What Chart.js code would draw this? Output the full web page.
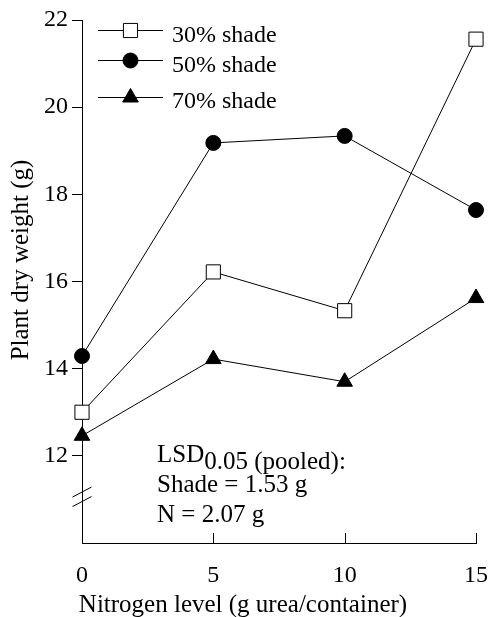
<!DOCTYPE html>
<html>
<head>
<meta charset="utf-8">
<script src="https://cdn.jsdelivr.net/npm/chart.js@4.4.0/dist/chart.umd.min.js"></script>
<style>
  html, body { margin: 0; padding: 0; background: #fff; }
  #wrap { width: 488px; height: 617px; position: relative; }
</style>
</head>
<body>
<div id="wrap"><canvas id="chart"></canvas></div>
<script>
// nitrogen levels (g urea/container)
const nitrogen = [0, 5, 10, 15];
// plant dry weight (g) per shade level
const shade30 = [13.0, 16.22, 15.33, 21.56];
const shade50 = [14.29, 19.18, 19.34, 17.64];
const shade70 = [12.46, 14.22, 13.70, 15.62];
const seriesNames = ['30% shade', '50% shade', '70% shade'];
const lsdLines = ['Shade = 1.53 g', 'N = 2.07 g'];
const xTitle = 'Nitrogen level (g urea/container)';
const yTitle = 'Plant dry weight (g)';

const FONT = '"Liberation Serif", "Times New Roman", serif';

function pts(vals) {
  return nitrogen.map((x, i) => ({ x: x, y: vals[i] }));
}

// legend, inward x ticks, axis break, titles, LSD note
const extras = {
  id: 'extras',
  afterDraw(chart) {
    const ctx = chart.ctx;
    const xs = chart.scales.x, ys = chart.scales.y;
    ctx.save();
    ctx.strokeStyle = '#000';
    ctx.fillStyle = '#000';
    ctx.lineWidth = 1;

    // x ticks pointing up into the plot
    const base = ys.getPixelForValue(10);
    nitrogen.forEach(v => {
      if (v === 0) return;
      const px = Math.round(xs.getPixelForValue(v)) + 0.5;
      ctx.beginPath();
      ctx.moveTo(px, base);
      ctx.lineTo(px, base - 10);
      ctx.stroke();
    });

    // axis break: two slashes
    const ax = xs.getPixelForValue(0);
    const by = ys.getPixelForValue(11.06);
    [-4.75, 4.75].forEach(d => {
      ctx.beginPath();
      ctx.moveTo(ax - 9.5, by + d + 5);
      ctx.lineTo(ax + 9.5, by + d - 5);
      ctx.stroke();
    });

    // legend
    const lineY = [30, 60, 97];
    const textY = [42, 72, 108];
    chart.data.datasets.forEach((ds, i) => {
      const y = lineY[i] + 0.5;
      ctx.strokeStyle = '#000';
      ctx.beginPath();
      ctx.moveTo(98, y);
      ctx.lineTo(163, y);
      ctx.stroke();
      ctx.fillStyle = ds.pointBackgroundColor;
      ctx.strokeStyle = '#000';
      Chart.helpers.drawPoint(ctx, {
        pointStyle: ds.pointStyle,
        radius: ds.pointRadius,
        rotation: 0,
        borderWidth: 1
      }, 130.5, y);
      ctx.fillStyle = '#000';
      ctx.font = '24px ' + FONT;
      ctx.textBaseline = 'alphabetic';
      ctx.textAlign = 'left';
      ctx.fillText(seriesNames[i], 172, textY[i]);
    });

    // LSD note
    ctx.font = '25px ' + FONT;
    ctx.textBaseline = 'alphabetic';
    ctx.textAlign = 'left';
    ctx.fillText('LSD', 157, 462);
    const w = ctx.measureText('LSD').width;
    ctx.fillText('0.05 (pooled):', 157 + w, 469);
    ctx.fillText(lsdLines[0], 157, 492);
    ctx.fillText(lsdLines[1], 157, 522);

    // axis titles
    ctx.font = '25px ' + FONT;
    ctx.textAlign = 'center';
    ctx.fillText(xTitle, 243, 612);
    ctx.save();
    ctx.translate(28, 260);
    ctx.rotate(-Math.PI / 2);
    ctx.fillText(yTitle, 0, 0);
    ctx.restore();

    ctx.restore();
  }
};

function dataset(label, vals, style, radius, fill) {
  return {
    label: label,
    data: pts(vals),
    borderColor: '#000',
    borderWidth: 1,
    pointStyle: style,
    pointRadius: radius,
    pointBorderColor: '#000',
    pointBackgroundColor: fill,
    pointBorderWidth: 1,
    tension: 0,
    clip: false
  };
}

new Chart(document.getElementById('chart'), {
  type: 'line',
  data: {
    datasets: [
      dataset(seriesNames[0], shade30, 'rect', 10, '#fff'),
      dataset(seriesNames[1], shade50, 'circle', 7.5, '#000'),
      dataset(seriesNames[2], shade70, 'triangle', 9, '#000')
    ]
  },
  options: {
    responsive: true,
    maintainAspectRatio: false,
    animation: false,
    layout: { padding: { top: 20, right: 12, bottom: 0, left: 0 } },
    plugins: { legend: { display: false }, tooltip: { enabled: false } },
    scales: {
      x: {
        type: 'linear',
        min: 0, max: 15,
        afterFit: s => { s.height = 74; s.paddingLeft = 0; s.paddingRight = 0; },
        ticks: { stepSize: 5, color: '#000', font: { family: FONT, size: 24 }, padding: 18 },
        grid: { display: true, drawOnChartArea: false, drawTicks: false },
        border: { display: true, color: '#000', width: 1 }
      },
      y: {
        min: 10, max: 22,
        afterFit: s => { s.width = 82; s.paddingTop = 0; s.paddingBottom = 0; },
        ticks: {
          stepSize: 2, color: '#000', font: { family: FONT, size: 24 }, padding: 4,
          callback: v => (v === 10 ? '' : v)
        },
        grid: {
          drawOnChartArea: false, tickLength: 10,
          color: c => (c.tick && c.tick.value === 10 ? 'rgba(0,0,0,0)' : '#000')
        },
        border: { display: true, color: '#000', width: 1 }
      }
    }
  },
  plugins: [extras]
});
</script>
</body>
</html>
